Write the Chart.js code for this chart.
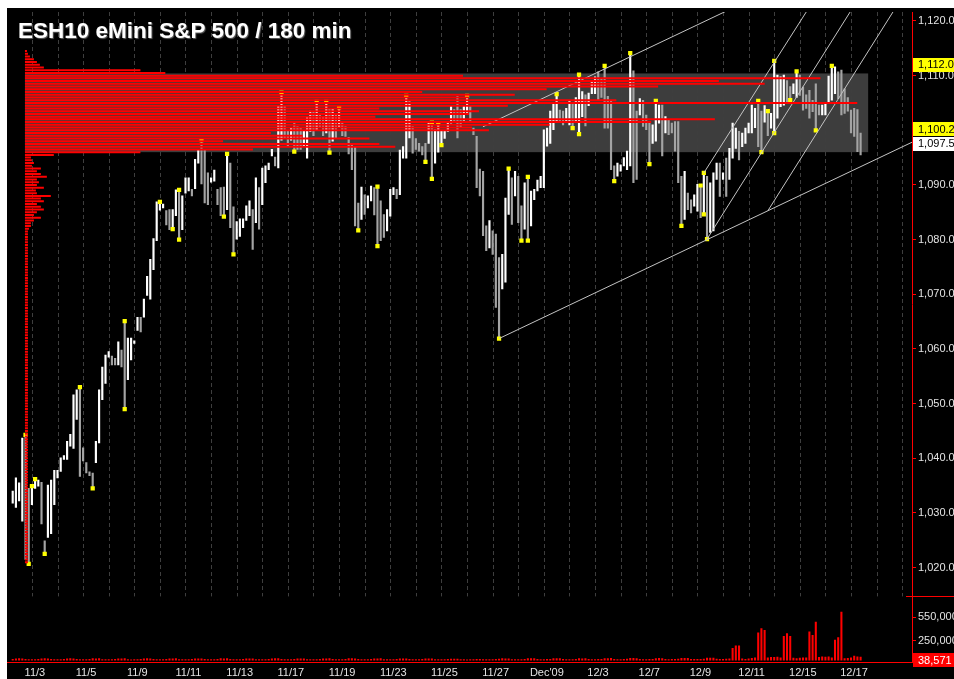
<!DOCTYPE html>
<html>
<head>
<meta charset="utf-8">
<title>ESH10 eMini S&amp;P 500 / 180 min</title>
<script src="https://cdn.jsdelivr.net/npm/chart.js@4.4.0/dist/chart.umd.min.js"></script>
<style>
  html, body { margin: 0; padding: 0; background: #ffffff; }
  #wrap { position: absolute; left: 7px; top: 8px; width: 947px; height: 671px; background: #000000; overflow: hidden; }
  #chart { display: block; }
  #title {
    position: absolute; left: 11px; top: 10px;
    font: bold 22.5px "Liberation Sans", Arial, sans-serif; color: #ffffff;
    text-shadow: 1px 1px 1px #606060; white-space: nowrap;
  }
</style>
</head>
<body>
<div id="wrap">
  <canvas id="chart" width="947" height="671"></canvas>
  <div id="title">ESH10 eMini S&amp;P 500 / 180 min</div>
</div>
<script>
// -----------------------
// Data
// -----------------------
const FIRST_SLOT = 2;      // first visible bar = slot 2 of the 11/2 session
const SLOTS_PER_DAY = 8;   // eight 180-min bars per Globex day

const dayTicks = [1, 3, 5, 7, 9, 11, 13, 15, 17, 19, 21, 23, 25, 27, 29, 31, 33];
const dayLabels = ['11/3', '11/5', '11/9', '11/11', '11/13', '11/17', '11/19', '11/23', '11/25',
  '11/27', "Dec'09", '12/3', '12/7', '12/9', '12/11', '12/15', '12/17'];
const priceTicks = [1020, 1030, 1040, 1050, 1060, 1070, 1080, 1090, 1100, 1110, 1120];
const volumeTicks = [250000, 550000];

const highs = [
  1034.0, 1036.4, 1035.5, 1043.7, 1044.3, 1034.5,
  1034.9, 1036.2, 1036.0, 1035.6, 1024.9, 1035.1, 1036.0, 1037.8,
  1037.8, 1040.1, 1040.5, 1043.1, 1044.4, 1051.6, 1052.5, 1053.0,
  1041.9, 1039.2, 1037.5, 1037.3, 1043.1, 1052.5, 1056.7, 1058.9,
  1059.5, 1058.7, 1058.3, 1061.3, 1059.8, 1065.1, 1062.0, 1062.0,
  1061.5, 1065.8, 1065.8, 1069.1, 1073.3, 1076.4, 1080.2, 1086.9,
  1086.9, 1086.5, 1085.3, 1085.5, 1085.5, 1089.1, 1089.1, 1088.0,
  1091.3, 1091.3, 1089.2, 1094.7, 1096.5, 1098.2, 1096.5, 1092.2,
  1091.3, 1092.7, 1089.2, 1089.5, 1089.6, 1095.7, 1094.0, 1086.0,
  1083.3, 1083.8, 1083.8, 1086.2, 1087.1, 1085.5, 1091.3, 1089.5,
  1093.1, 1093.5, 1094.0, 1096.5, 1095.1, 1104.4, 1106.9, 1104.4,
  1100.0, 1100.4, 1101.3, 1100.7, 1100.5, 1100.0, 1102.5, 1103.5,
  1103.5, 1105.2, 1103.0, 1102.5, 1105.2, 1104.0, 1104.0, 1103.0,
  1104.2, 1101.5, 1100.7, 1098.7, 1097.6, 1096.9, 1086.7, 1089.6,
  1088.2, 1088.0, 1089.8, 1089.5, 1089.7, 1087.1, 1084.6, 1085.5,
  1089.2, 1089.5, 1089.2, 1096.4, 1097.0, 1106.3, 1105.2, 1100.7,
  1098.5, 1097.6, 1097.0, 1097.6, 1101.6, 1101.4, 1100.1, 1101.3,
  1100.0, 1099.8, 1101.3, 1104.4, 1103.8, 1106.2, 1103.8, 1104.4,
  1106.3, 1104.5, 1100.4, 1098.9, 1092.9, 1092.5, 1082.5, 1083.5,
  1081.6, 1081.0, 1076.7, 1077.3, 1087.6, 1093.0, 1091.3, 1092.5,
  1091.6, 1086.2, 1090.4, 1091.5, 1088.9, 1089.2, 1090.9, 1091.6,
  1100.1, 1100.4, 1103.5, 1104.9, 1106.6, 1103.7, 1103.5, 1104.0,
  1105.5, 1105.0, 1106.0, 1110.2, 1107.1, 1106.5, 1106.8, 1109.1,
  1109.8, 1110.7, 1109.5, 1111.8, 1106.2, 1105.5, 1093.5, 1094.0,
  1093.7, 1095.0, 1096.2, 1114.1, 1110.9, 1103.5, 1105.8, 1105.5,
  1102.8, 1101.6, 1101.0, 1105.4, 1104.6, 1104.6, 1102.5, 1101.9,
  1101.3, 1101.6, 1101.6, 1091.6, 1092.5, 1088.5, 1087.3, 1088.2,
  1090.1, 1089.9, 1092.2, 1091.6, 1090.4, 1092.2, 1094.0, 1094.0,
  1092.2, 1094.9, 1096.7, 1101.3, 1100.4, 1099.8, 1099.5, 1100.4,
  1101.3, 1104.6, 1104.0, 1105.4, 1103.5, 1104.5, 1103.5, 1103.1,
  1112.7, 1110.1, 1109.8, 1110.1, 1109.1, 1108.0, 1108.5, 1110.8,
  1110.1, 1107.9, 1106.5, 1107.3, 1105.5, 1108.5, 1104.6, 1104.6,
  1104.9, 1109.9, 1111.8, 1111.6, 1110.7, 1111.0, 1107.6, 1106.0,
  1103.7, 1104.0, 1103.8, 1099.5
];

const lows = [
  1031.8, 1031.0, 1032.2, 1028.5, 1021.5, 1020.7,
  1031.5, 1034.5, 1034.9, 1028.0, 1022.5, 1025.5, 1026.2, 1031.5,
  1036.4, 1037.6, 1039.8, 1039.8, 1042.2, 1041.8, 1047.1, 1036.7,
  1039.5, 1037.3, 1036.8, 1034.5, 1039.2, 1042.8, 1050.7, 1053.7,
  1058.5, 1057.1, 1057.1, 1057.1, 1056.7, 1049.0, 1054.4, 1058.0,
  1061.0, 1063.4, 1063.1, 1065.8, 1069.8, 1069.1, 1074.5, 1079.8,
  1085.4, 1085.8, 1082.7, 1081.8, 1081.9, 1084.4, 1080.0, 1081.8,
  1088.5, 1088.9, 1088.0, 1089.3, 1094.0, 1090.2, 1086.7, 1086.4,
  1090.5, 1090.7, 1086.4, 1084.4, 1084.2, 1085.5, 1082.2, 1077.3,
  1080.1, 1080.6, 1082.2, 1083.5, 1084.4, 1078.2, 1083.1, 1081.9,
  1086.4, 1090.4, 1092.8, 1095.3, 1093.5, 1093.1, 1098.2, 1098.5,
  1097.0, 1098.2, 1096.1, 1096.5, 1096.5, 1097.0, 1094.9, 1099.8,
  1099.0, 1100.0, 1100.6, 1099.0, 1099.5, 1095.9, 1098.0, 1098.5,
  1100.5, 1099.0, 1098.9, 1095.7, 1092.8, 1082.5, 1081.7, 1083.7,
  1084.6, 1085.8, 1087.1, 1084.5, 1078.8, 1079.8, 1080.4, 1081.6,
  1084.3, 1088.2, 1087.5, 1088.2, 1094.9, 1094.9, 1098.6, 1095.8,
  1096.5, 1096.2, 1095.5, 1094.2, 1097.6, 1091.1, 1094.0, 1096.0,
  1097.3, 1098.5, 1099.8, 1101.3, 1101.5, 1098.6, 1100.5, 1101.8,
  1103.0, 1101.5, 1099.2, 1089.5, 1088.0, 1080.7, 1078.0, 1078.5,
  1077.3, 1067.6, 1061.9, 1071.0, 1072.2, 1084.6, 1082.8, 1088.0,
  1083.1, 1079.8, 1081.9, 1079.8, 1082.5, 1087.3, 1088.9, 1089.5,
  1089.5, 1097.1, 1097.6, 1100.1, 1101.6, 1101.6, 1101.0, 1101.5,
  1101.0, 1100.4, 1101.5, 1099.3, 1102.5, 1100.8, 1104.5, 1106.7,
  1106.7, 1105.5, 1106.0, 1100.4, 1100.4, 1092.8, 1090.7, 1091.6,
  1092.5, 1093.5, 1092.8, 1093.5, 1090.4, 1091.0, 1102.8, 1100.7,
  1100.1, 1093.8, 1097.6, 1098.0, 1101.3, 1095.3, 1099.5, 1099.2,
  1099.5, 1096.2, 1090.4, 1082.5, 1083.7, 1085.5, 1084.9, 1086.1,
  1085.2, 1084.0, 1084.6, 1080.1, 1081.3, 1081.6, 1091.0, 1087.9,
  1091.0, 1087.9, 1091.0, 1094.9, 1096.7, 1094.6, 1097.0, 1097.6,
  1099.5, 1099.5, 1100.5, 1097.0, 1096.0, 1101.5, 1099.0, 1100.4,
  1099.5, 1102.2, 1104.3, 1104.6, 1104.9, 1105.5, 1106.7, 1106.0,
  1106.4, 1103.7, 1104.0, 1102.2, 1103.4, 1100.0, 1102.8, 1102.8,
  1102.8, 1105.2, 1105.5, 1106.7, 1105.8, 1102.8, 1103.1, 1103.5,
  1099.5, 1098.9, 1096.1, 1095.5
];

const volumes = [
  9000, 16000, 18000, 15000, 9000, 6000,
  5000, 6000, 9000, 17000, 19000, 16000, 8000, 5000,
  6000, 7000, 10000, 16000, 18000, 17000, 8000, 6000,
  5000, 7000, 9000, 18000, 17000, 19000, 7000, 5000,
  6000, 6000, 8000, 16000, 15000, 18000, 7000, 4000,
  5000, 7000, 10000, 17000, 18000, 16000, 8000, 6000,
  6000, 6000, 9000, 16000, 17000, 18000, 7000, 5000,
  5000, 7000, 8000, 15000, 16000, 17000, 8000, 6000,
  6000, 7000, 9000, 18000, 17000, 19000, 8000, 5000,
  5000, 6000, 8000, 16000, 15000, 17000, 7000, 5000,
  6000, 7000, 9000, 17000, 18000, 18000, 8000, 6000,
  6000, 6000, 9000, 16000, 17000, 16000, 7000, 5000,
  5000, 7000, 8000, 17000, 16000, 18000, 8000, 6000,
  6000, 7000, 10000, 18000, 19000, 17000, 8000, 5000,
  5000, 6000, 9000, 16000, 17000, 19000, 7000, 5000,
  6000, 7000, 9000, 17000, 16000, 17000, 8000, 6000,
  5000, 6000, 8000, 15000, 16000, 17000, 7000, 5000,
  5000, 6000, 8000, 14000, 13000, 12000, 6000, 5000,
  4000, 5000, 6000, 8000, 9000, 7000, 5000, 6000,
  7000, 9000, 14000, 18000, 17000, 15000, 6000, 5000,
  6000, 7000, 9000, 18000, 19000, 18000, 8000, 6000,
  6000, 8000, 10000, 19000, 18000, 19000, 8000, 6000,
  6000, 7000, 10000, 18000, 17000, 19000, 8000, 7000,
  7000, 8000, 11000, 19000, 20000, 21000, 9000, 6000,
  7000, 8000, 12000, 22000, 21000, 20000, 9000, 7000,
  7000, 8000, 11000, 20000, 21000, 20000, 9000, 7000,
  8000, 9000, 12000, 22000, 23000, 22000, 10000, 8000,
  9000, 10000, 14000, 25000, 26000, 27000, 12000, 10000,
  10000, 12000, 15000, 150000, 183000, 183000, 15000, 10000,
  15000, 22000, 28000, 350000, 405000, 384000, 30000, 35000,
  35000, 38000, 30000, 307000, 341000, 307000, 25000, 20000,
  25000, 28000, 30000, 363000, 320000, 490000, 35000, 40000,
  38000, 42000, 30000, 256000, 290000, 618000, 20000, 22000,
  30000, 50000, 40000, 38571
];

// swing markers (bar index of the marked high / low)
const swingHighBars = [4, 6, 7, 21, 35, 46, 52, 59, 67, 84, 95, 98, 102, 114, 123, 131, 133, 142,
  155, 161, 170, 177, 185, 193, 201, 215, 216, 233, 236, 238, 245, 256];
const swingLowBars = [5, 10, 25, 35, 50, 52, 66, 69, 88, 99, 108, 114, 129, 131, 134, 152, 159,
  161, 175, 177, 188, 199, 209, 216, 217, 234, 238, 243, 251];

// trend lines: [day from, price from, day to, price to]
const trendLines = [
  [19.25, 1061.9, 35.4, 1097.85],
  [18.62, 1100.64, 28.3, 1122.19],
  [27.25, 1092.2, 31.3, 1122.0],
  [27.375, 1080.1, 33.0, 1121.9],
  [29.755, 1085.3, 34.7, 1122.1]
];

const valueAreaHigh = 1110.4;
const valueAreaLow = 1096.0;
const priceFlags = [1112.0, 1100.2];
const lastPrice = 1097.5;

// volume at price, 0.5 pt bins from the top level down
const PROFILE_TOP = 1114.5;
const PROFILE_STEP = 0.5;
const profileVol = [
  2, 3, 5, 9, 12, 15, 19, 116, 141, 440,
  799, 697, 743, 636, 524, 399, 492, 446, 594, 836,
  485, 356, 456, 446, 352, 693, 629, 527, 449, 466,
  247, 279, 346, 199, 356, 372, 229, 116, 29, 6,
  7, 9, 7, 16, 12, 16, 22, 12, 14, 12,
  19, 11, 12, 26, 16, 19, 12, 16, 19, 12,
  9, 16, 9, 6, 6, 4,
  3, 3, 3, 3, 3, 3, 3, 3, 3, 3, 3, 3, 3, 3, 3, 3, 3, 3, 3, 3,
  3, 3, 3, 3, 3, 3, 3, 3, 3, 3, 3, 3, 3, 3, 3, 3, 3, 3, 3, 3,
  3, 3, 3, 3, 3, 3, 3, 3, 3, 3, 3, 3, 3, 3, 3, 3, 3, 3, 3, 3,
  3, 3, 3, 3, 3, 3, 3, 3, 3, 3, 3, 3, 3, 3, 3, 3, 3, 3, 3, 3,
  3, 3, 3, 3, 3, 3, 3, 3, 3, 3, 3, 3, 3, 3, 3, 3, 3, 3, 3, 3,
  3, 3, 3, 3, 3, 3, 3, 3, 3, 3, 3, 3, 3, 3, 3, 3, 3, 3, 3, 3,
  3, 3
];

// -----------------------
// Layout / style
// -----------------------
const X_MIN = 0.1832, X_MAX = 35.383;
const PRICE_MIN = 1014.73, PRICE_MAX = 1121.64;
const VOL_MIN = -25000, VOL_MAX = 820000;
const PROFILE_X0 = 0.728;
const PROFILE_UNIT = 1 / 25.71;
const BOX_RIGHT = 33.67;
const FONT = '"Liberation Sans", Arial, sans-serif';
const RED = '#ff0000';

const barX = i => (i + FIRST_SLOT) / SLOTS_PER_DAY;
const fmt = (v, d) => v.toLocaleString('en-US', { minimumFractionDigits: d, maximumFractionDigits: d });

function noPadding(s) {
  s.paddingTop = 0;
  s.paddingBottom = 0;
  s.paddingLeft = 0;
  s.paddingRight = 0;
}

// -----------------------
// Datasets
// -----------------------
function profileData() {
  const pts = [];
  profileVol.forEach((v, i) => {
    const p = PROFILE_TOP - i * PROFILE_STEP;
    const end = PROFILE_X0 + v * PROFILE_UNIT;
    pts.push({ x: PROFILE_X0, y: p }, { x: end, y: p }, { x: end, y: null });
  });
  return pts;
}

function buildDatasets() {
  const sets = [];

  sets.push({
    type: 'line', label: 'profile', data: profileData(), order: 0,
    borderColor: RED, borderWidth: 2, borderCapStyle: 'butt',
    pointRadius: 0, spanGaps: false, tension: 0
  });

  trendLines.forEach((t, n) => {
    sets.push({
      type: 'line', label: 'trend' + n, order: 1,
      data: [{ x: t[0], y: t[1] }, { x: t[2], y: t[3] }],
      borderColor: '#c4c4c4', borderWidth: 1, pointRadius: 0, tension: 0
    });
  });

  const marks = swingHighBars.map(i => ({ x: barX(i), y: highs[i] }))
    .concat(swingLowBars.map(i => ({ x: barX(i), y: lows[i] })));
  sets.push({
    type: 'scatter', label: 'swings', data: marks, order: 2,
    pointStyle: 'rect', pointRadius: 3, backgroundColor: '#ffff00', borderWidth: 0
  });

  sets.push({
    type: 'bar', label: 'ESH10', order: 3, grouped: false,
    data: highs.map((h, i) => ({ x: barX(i), y: [lows[i], h] })),
    barThickness: 1.5,
    backgroundColor: ctx => {
      const i = ctx.dataIndex;
      const mid = highs[i] + lows[i];
      const prev = i > 0 ? highs[i - 1] + lows[i - 1] : mid;
      return mid >= prev ? '#ffffff' : '#a4a4a4';
    }
  });

  sets.push({
    type: 'bar', label: 'volume', order: 4, grouped: false, yAxisID: 'yv',
    data: volumes.map((v, i) => ({ x: barX(i), y: v })),
    barThickness: 1.4, backgroundColor: RED
  });

  return sets;
}

// -----------------------
// Plugins
// -----------------------
const backdrop = {
  id: 'backdrop',
  beforeDatasetsDraw(chart) {
    const { ctx, chartArea, scales: { x, y } } = chart;
    ctx.save();
    // value area box
    const top = y.getPixelForValue(valueAreaHigh);
    const bot = y.getPixelForValue(valueAreaLow);
    const l = x.getPixelForValue(PROFILE_X0);
    const r = x.getPixelForValue(BOX_RIGHT);
    ctx.fillStyle = '#3d3d3d';
    ctx.fillRect(l, top, r - l, bot - top);
    // dashed day separators, price pane only
    ctx.strokeStyle = '#3e3e3e';
    ctx.lineWidth = 1;
    ctx.setLineDash([4, 3]);
    for (let d = 1; d <= 35; d++) {
      const px = Math.round(x.getPixelForValue(d)) + 0.5;
      if (px > chartArea.right) break;
      ctx.beginPath();
      ctx.moveTo(px, chartArea.top);
      ctx.lineTo(px, y.bottom);
      ctx.stroke();
    }
    ctx.restore();
  }
};

function drawFlag(ctx, left, right, yMid, text, fill, color) {
  ctx.fillStyle = fill;
  ctx.fillRect(left, Math.round(yMid - 7), right - left, 14);
  ctx.fillStyle = color;
  ctx.textAlign = 'left';
  ctx.textBaseline = 'middle';
  ctx.fillText(text, left + 5, yMid + 0.5);
}

const overlay = {
  id: 'overlay',
  afterDraw(chart) {
    const { ctx, chartArea, scales: { y, yv } } = chart;
    ctx.save();
    ctx.strokeStyle = RED;
    ctx.lineWidth = 1;
    ctx.beginPath();
    ctx.moveTo(0, Math.round(chartArea.bottom) + 0.5);
    ctx.lineTo(chart.width, Math.round(chartArea.bottom) + 0.5);
    ctx.moveTo(chartArea.right - 6, Math.round(y.bottom) + 0.5);
    ctx.lineTo(chart.width, Math.round(y.bottom) + 0.5);
    ctx.stroke();

    ctx.font = '11px ' + FONT;
    const left = chartArea.right + 1;
    let prevBottom = -Infinity;
    priceFlags.concat([lastPrice]).forEach((p, n) => {
      let mid = y.getPixelForValue(p);
      if (mid - 7 < prevBottom) mid = prevBottom + 7;
      const isLast = n === priceFlags.length;
      drawFlag(ctx, left, chart.width, mid, fmt(p, 1), isLast ? '#ffffff' : '#ffff00', '#000000');
      prevBottom = mid + 7;
    });
    const lastVol = volumes[volumes.length - 1];
    drawFlag(ctx, left, chart.width, yv.getPixelForValue(lastVol) + 3, fmt(lastVol, 0), RED, '#ffffff');
    ctx.restore();
  }
};

// -----------------------
// Chart
// -----------------------
function initChart() {
  const axisTicks = { color: '#e4e4e4', font: { size: 11, family: FONT }, padding: 2 };

  new Chart(document.getElementById('chart'), {
    type: 'bar',
    data: { datasets: buildDatasets() },
    plugins: [backdrop, overlay],
    options: {
      responsive: false,
      animation: false,
      events: [],
      layout: { padding: 0 },
      plugins: { legend: { display: false }, tooltip: { enabled: false } },
      scales: {
        x: {
          type: 'linear', min: X_MIN, max: X_MAX, offset: false,
          grid: { display: false, drawTicks: false, offset: false },
          border: { display: false },
          afterBuildTicks: s => { s.ticks = dayTicks.map(v => ({ value: v })); },
          ticks: {
            ...axisTicks, padding: 4, autoSkip: false, maxRotation: 0, labelOffset: 3,
            callback: (v, i) => dayLabels[i]
          },
          afterFit: s => { s.height = 17; noPadding(s); }
        },
        y: {
          position: 'right', stack: 'panes', stackWeight: 588,
          min: PRICE_MIN, max: PRICE_MAX,
          afterBuildTicks: s => { s.ticks = priceTicks.map(v => ({ value: v })); },
          ticks: { ...axisTicks, callback: v => fmt(v, 1) },
          grid: { drawOnChartArea: false, color: RED, tickLength: 4 },
          border: { color: RED },
          afterFit: s => { s.width = 42; noPadding(s); }
        },
        yv: {
          position: 'right', stack: 'panes', stackWeight: 66,
          min: VOL_MIN, max: VOL_MAX,
          afterBuildTicks: s => { s.ticks = volumeTicks.map(v => ({ value: v })); },
          ticks: { ...axisTicks, callback: v => fmt(v, 0) },
          grid: { drawOnChartArea: false, color: RED, tickLength: 4 },
          border: { color: RED },
          afterFit: s => { s.width = 42; noPadding(s); }
        }
      }
    }
  });
}

document.addEventListener('DOMContentLoaded', initChart);
</script>
</body>
</html>
